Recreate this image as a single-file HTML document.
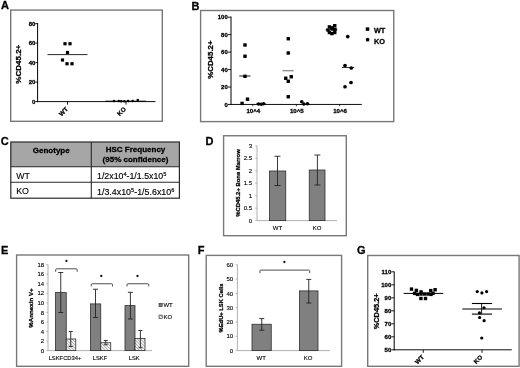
<!DOCTYPE html>
<html><head><meta charset="utf-8"><title>Figure</title>
<style>
html,body{margin:0;padding:0;background:#fff;}
body{width:520px;height:368px;overflow:hidden;font-family:"Liberation Sans",sans-serif;}
svg{display:block;filter:blur(0.35px);}
svg text{font-family:"Liberation Sans",sans-serif;}
</style></head><body>
<svg width="520" height="368" viewBox="0 0 520 368">
<rect width="520" height="368" fill="#fff"/>
<text x="1.0" y="9.2" font-size="11" font-weight="bold" stroke="#000" stroke-width="0.28" text-anchor="start" fill="#000" >A</text>
<text x="191.6" y="9.8" font-size="11" font-weight="bold" stroke="#000" stroke-width="0.28" text-anchor="start" fill="#000" >B</text>
<text x="0.8" y="144.9" font-size="11" font-weight="bold" stroke="#000" stroke-width="0.28" text-anchor="start" fill="#000" >C</text>
<text x="205.6" y="145.0" font-size="11" font-weight="bold" stroke="#000" stroke-width="0.28" text-anchor="start" fill="#000" >D</text>
<text x="1.0" y="254.3" font-size="11" font-weight="bold" stroke="#000" stroke-width="0.28" text-anchor="start" fill="#000" >E</text>
<text x="197.7" y="254.3" font-size="11" font-weight="bold" stroke="#000" stroke-width="0.28" text-anchor="start" fill="#000" >F</text>
<text x="357.0" y="254.3" font-size="11" font-weight="bold" stroke="#000" stroke-width="0.28" text-anchor="start" fill="#000" >G</text>
<rect x="10.7" y="10.1" width="151.60000000000002" height="111.2" fill="none" stroke="#787878" stroke-width="1.4"/>
<line x1="37.6" y1="23.0" x2="37.6" y2="102.1" stroke="#000" stroke-width="1"/>
<line x1="37.1" y1="101.6" x2="155.5" y2="101.6" stroke="#000" stroke-width="0.95"/>
<line x1="35.300000000000004" y1="101.6" x2="37.6" y2="101.6" stroke="#000" stroke-width="0.9"/>
<text x="35.4" y="103.69999999999999" font-size="6" font-weight="bold" stroke="#000" stroke-width="0.28" text-anchor="end" fill="#000" >0</text>
<line x1="35.300000000000004" y1="82.1" x2="37.6" y2="82.1" stroke="#000" stroke-width="0.9"/>
<text x="35.4" y="84.19999999999999" font-size="6" font-weight="bold" stroke="#000" stroke-width="0.28" text-anchor="end" fill="#000" >20</text>
<line x1="35.300000000000004" y1="62.599999999999994" x2="37.6" y2="62.599999999999994" stroke="#000" stroke-width="0.9"/>
<text x="35.4" y="64.69999999999999" font-size="6" font-weight="bold" stroke="#000" stroke-width="0.28" text-anchor="end" fill="#000" >40</text>
<line x1="35.300000000000004" y1="43.099999999999994" x2="37.6" y2="43.099999999999994" stroke="#000" stroke-width="0.9"/>
<text x="35.4" y="45.199999999999996" font-size="6" font-weight="bold" stroke="#000" stroke-width="0.28" text-anchor="end" fill="#000" >60</text>
<line x1="35.300000000000004" y1="23.599999999999994" x2="37.6" y2="23.599999999999994" stroke="#000" stroke-width="0.9"/>
<text x="35.4" y="25.699999999999996" font-size="6" font-weight="bold" stroke="#000" stroke-width="0.28" text-anchor="end" fill="#000" >80</text>
<text x="20.9" y="64.2" font-size="8" font-weight="bold" stroke="#000" stroke-width="0.28" text-anchor="middle" fill="#000" transform="rotate(-90 20.9 64.2)" >%CD45.2+</text>
<rect x="63.40" y="42.15" width="3.2" height="3.2" fill="#000"/>
<rect x="68.40" y="42.15" width="3.2" height="3.2" fill="#000"/>
<rect x="65.90" y="50.90" width="3.2" height="3.2" fill="#000"/>
<rect x="60.90" y="58.40" width="3.2" height="3.2" fill="#000"/>
<rect x="65.40" y="62.15" width="3.2" height="3.2" fill="#000"/>
<rect x="70.40" y="62.15" width="3.2" height="3.2" fill="#000"/>
<line x1="47.5" y1="54.6" x2="87.5" y2="54.6" stroke="#111" stroke-width="0.9"/>
<line x1="67.5" y1="101.6" x2="67.5" y2="104.6" stroke="#000" stroke-width="0.9"/>
<line x1="126" y1="101.6" x2="126" y2="104.6" stroke="#000" stroke-width="0.9"/>
<circle cx="114" cy="101" r="1.25" fill="#000"/>
<circle cx="118.75" cy="101" r="1.25" fill="#000"/>
<circle cx="121.25" cy="101.3" r="1.25" fill="#000"/>
<circle cx="124.4" cy="101.3" r="1.25" fill="#000"/>
<circle cx="128.1" cy="101.1" r="1.25" fill="#000"/>
<circle cx="132.75" cy="100.9" r="1.25" fill="#000"/>
<circle cx="137.75" cy="99.9" r="1.25" fill="#000"/>
<line x1="105.5" y1="101.2" x2="146" y2="101.2" stroke="#000" stroke-width="1.0"/>
<text x="65.0" y="113.0" font-size="6.2" font-weight="bold" stroke="#000" stroke-width="0.28" text-anchor="middle" fill="#000" transform="rotate(-45 65.0 113.0)" >WT</text>
<text x="123.0" y="113.0" font-size="6.2" font-weight="bold" stroke="#000" stroke-width="0.28" text-anchor="middle" fill="#000" transform="rotate(-45 123.0 113.0)" >KO</text>
<rect x="200.6" y="10.5" width="193.15" height="111.1" fill="none" stroke="#787878" stroke-width="1.4"/>
<line x1="231.0" y1="16.5" x2="231.0" y2="104.95" stroke="#000" stroke-width="1"/>
<line x1="230.5" y1="104.45" x2="361.75" y2="104.45" stroke="#000" stroke-width="0.95"/>
<line x1="228.0" y1="104.45" x2="231.0" y2="104.45" stroke="#000" stroke-width="0.9"/>
<text x="227.8" y="106.55" font-size="6" font-weight="bold" stroke="#000" stroke-width="0.28" text-anchor="end" fill="#000" >0</text>
<line x1="228.0" y1="87.0" x2="231.0" y2="87.0" stroke="#000" stroke-width="0.9"/>
<text x="227.8" y="89.1" font-size="6" font-weight="bold" stroke="#000" stroke-width="0.28" text-anchor="end" fill="#000" >20</text>
<line x1="228.0" y1="69.55000000000001" x2="231.0" y2="69.55000000000001" stroke="#000" stroke-width="0.9"/>
<text x="227.8" y="71.65" font-size="6" font-weight="bold" stroke="#000" stroke-width="0.28" text-anchor="end" fill="#000" >40</text>
<line x1="228.0" y1="52.10000000000001" x2="231.0" y2="52.10000000000001" stroke="#000" stroke-width="0.9"/>
<text x="227.8" y="54.20000000000001" font-size="6" font-weight="bold" stroke="#000" stroke-width="0.28" text-anchor="end" fill="#000" >60</text>
<line x1="228.0" y1="34.650000000000006" x2="231.0" y2="34.650000000000006" stroke="#000" stroke-width="0.9"/>
<text x="227.8" y="36.75000000000001" font-size="6" font-weight="bold" stroke="#000" stroke-width="0.28" text-anchor="end" fill="#000" >80</text>
<line x1="228.0" y1="17.200000000000003" x2="231.0" y2="17.200000000000003" stroke="#000" stroke-width="0.9"/>
<text x="227.8" y="19.300000000000004" font-size="6" font-weight="bold" stroke="#000" stroke-width="0.28" text-anchor="end" fill="#000" >100</text>
<text x="212.6" y="59.6" font-size="7.9" font-weight="bold" stroke="#000" stroke-width="0.28" text-anchor="middle" fill="#000" transform="rotate(-90 212.6 59.6)" >%CD45.2+</text>
<rect x="243.30" y="43.30" width="3.4" height="3.4" fill="#000"/>
<rect x="243.30" y="54.55" width="3.4" height="3.4" fill="#000"/>
<rect x="243.30" y="74.60" width="3.4" height="3.4" fill="#000"/>
<rect x="240.40" y="101.70" width="3.4" height="3.4" fill="#000"/>
<rect x="245.80" y="97.50" width="3.4" height="3.4" fill="#000"/>
<rect x="286.55" y="37.05" width="3.4" height="3.4" fill="#000"/>
<rect x="286.55" y="51.30" width="3.4" height="3.4" fill="#000"/>
<rect x="284.05" y="76.55" width="3.4" height="3.4" fill="#000"/>
<rect x="289.55" y="75.05" width="3.4" height="3.4" fill="#000"/>
<rect x="286.55" y="79.55" width="3.4" height="3.4" fill="#000"/>
<rect x="286.55" y="95.05" width="3.4" height="3.4" fill="#000"/>
<line x1="239.25" y1="76" x2="250.5" y2="76" stroke="#000" stroke-width="0.9"/>
<line x1="282.5" y1="70.75" x2="293.75" y2="70.75" stroke="#555" stroke-width="0.9"/>
<circle cx="258.5" cy="104" r="1.8" fill="#000"/>
<circle cx="261.25" cy="104.2" r="1.8" fill="#000"/>
<circle cx="263.6" cy="103.7" r="1.8" fill="#000"/>
<circle cx="301.75" cy="101.75" r="1.8" fill="#000"/>
<circle cx="303.9" cy="104" r="1.8" fill="#000"/>
<circle cx="307.5" cy="103.8" r="1.8" fill="#000"/>
<line x1="256" y1="104.0" x2="266" y2="104.0" stroke="#000" stroke-width="0.8"/>
<rect x="327.70" y="25.20" width="3.4" height="3.4" fill="#000"/>
<rect x="333.05" y="24.00" width="3.4" height="3.4" fill="#000"/>
<rect x="333.30" y="27.70" width="3.4" height="3.4" fill="#000"/>
<rect x="326.30" y="28.30" width="3.4" height="3.4" fill="#000"/>
<rect x="327.70" y="30.80" width="3.4" height="3.4" fill="#000"/>
<rect x="330.20" y="31.90" width="3.4" height="3.4" fill="#000"/>
<rect x="333.05" y="30.80" width="3.4" height="3.4" fill="#000"/>
<rect x="330.20" y="26.10" width="3.4" height="3.4" fill="#000"/>
<rect x="330.80" y="27.30" width="3.4" height="3.4" fill="#000"/>
<line x1="325.6" y1="29.75" x2="337.25" y2="29.75" stroke="#000" stroke-width="0.9"/>
<circle cx="347.75" cy="36.6" r="1.85" fill="#000"/>
<circle cx="345" cy="65.5" r="1.85" fill="#000"/>
<circle cx="351.25" cy="68" r="1.85" fill="#000"/>
<circle cx="351" cy="82.5" r="1.85" fill="#000"/>
<circle cx="345" cy="86.75" r="1.85" fill="#000"/>
<line x1="342" y1="67.5" x2="354.25" y2="67.5" stroke="#000" stroke-width="0.8"/>
<line x1="252.85" y1="104.45" x2="252.85" y2="106.25" stroke="#000" stroke-width="0.8"/>
<text x="253.25" y="113.3" font-size="6.1" font-weight="bold" stroke="#000" stroke-width="0.28" text-anchor="middle" fill="#000" >10^4</text>
<line x1="296.35" y1="104.45" x2="296.35" y2="106.25" stroke="#000" stroke-width="0.8"/>
<text x="296.75" y="113.3" font-size="6.1" font-weight="bold" stroke="#000" stroke-width="0.28" text-anchor="middle" fill="#000" >10^5</text>
<line x1="339.6" y1="104.45" x2="339.6" y2="106.25" stroke="#000" stroke-width="0.8"/>
<text x="340" y="113.3" font-size="6.1" font-weight="bold" stroke="#000" stroke-width="0.28" text-anchor="middle" fill="#000" >10^6</text>
<rect x="365.75" y="27.35" width="3.5" height="3.5" fill="#000"/>
<text x="373.9" y="32.7" font-size="7.3" font-weight="bold" stroke="#000" stroke-width="0.28" text-anchor="start" fill="#000" >WT</text>
<circle cx="367.6" cy="39.7" r="1.85" fill="#000"/>
<text x="373.9" y="43.8" font-size="7.3" font-weight="bold" stroke="#000" stroke-width="0.28" text-anchor="start" fill="#000" >KO</text>
<rect x="10.8" y="142.0" width="168.6" height="24.75" fill="#a6a6a6"/>
<rect x="10.8" y="142.0" width="168.6" height="56.19999999999999" fill="none" stroke="#2a2a2a" stroke-width="1.2"/>
<line x1="10.8" y1="166.7" x2="179.4" y2="166.7" stroke="#2a2a2a" stroke-width="1.1"/>
<line x1="10.8" y1="182.3" x2="179.4" y2="182.3" stroke="#2a2a2a" stroke-width="1.1"/>
<line x1="91.3" y1="142.0" x2="91.3" y2="198.2" stroke="#2a2a2a" stroke-width="1.1"/>
<text x="51.25" y="152.6" font-size="8" font-weight="bold" stroke="#000" stroke-width="0.28" text-anchor="middle" fill="#000" >Genotype</text>
<text x="135.5" y="152.2" font-size="8" font-weight="bold" stroke="#000" stroke-width="0.28" text-anchor="middle" fill="#000" >HSC Frequency</text>
<text x="135.5" y="162.4" font-size="8" font-weight="bold" stroke="#000" stroke-width="0.28" text-anchor="middle" fill="#000" >(95% confidence)</text>
<text x="16.2" y="178.6" font-size="8.8" stroke="#000" stroke-width="0.12" text-anchor="start" fill="#000" >WT</text>
<text x="16.2" y="194.3" font-size="8.8" stroke="#000" stroke-width="0.12" text-anchor="start" fill="#000" >KO</text>
<text x="97" y="178.8" font-size="8.8" fill="#000" stroke="#000" stroke-width="0.15">1/2x10<tspan font-size="5.6" dy="-3">4</tspan><tspan dy="3">-1/1.5x10</tspan><tspan font-size="5.6" dy="-3">5</tspan></text>
<text x="97" y="194.5" font-size="8.9" fill="#000" stroke="#000" stroke-width="0.15">1/3.4x10<tspan font-size="5.6" dy="-3">5</tspan><tspan dy="3">-1/5.6x10</tspan><tspan font-size="5.6" dy="-3">6</tspan></text>
<rect x="223.6" y="135.75" width="122.70000000000002" height="99.94999999999999" fill="none" stroke="#787878" stroke-width="1.4"/>
<line x1="257" y1="145.5" x2="257" y2="220.6" stroke="#a8a8a8" stroke-width="0.9"/>
<line x1="257" y1="220.6" x2="337" y2="220.6" stroke="#a8a8a8" stroke-width="0.9"/>
<line x1="255.2" y1="220.6" x2="257" y2="220.6" stroke="#a8a8a8" stroke-width="0.8"/>
<text x="252.0" y="222.7" font-size="6" stroke="#000" stroke-width="0.12" text-anchor="end" fill="#000" >0</text>
<line x1="255.2" y1="208.15" x2="257" y2="208.15" stroke="#a8a8a8" stroke-width="0.8"/>
<text x="252.0" y="210.25" font-size="6" stroke="#000" stroke-width="0.12" text-anchor="end" fill="#000" >0.5</text>
<line x1="255.2" y1="195.7" x2="257" y2="195.7" stroke="#a8a8a8" stroke-width="0.8"/>
<text x="252.0" y="197.79999999999998" font-size="6" stroke="#000" stroke-width="0.12" text-anchor="end" fill="#000" >1</text>
<line x1="255.2" y1="183.25" x2="257" y2="183.25" stroke="#a8a8a8" stroke-width="0.8"/>
<text x="252.0" y="185.35" font-size="6" stroke="#000" stroke-width="0.12" text-anchor="end" fill="#000" >1.5</text>
<line x1="255.2" y1="170.8" x2="257" y2="170.8" stroke="#a8a8a8" stroke-width="0.8"/>
<text x="252.0" y="172.9" font-size="6" stroke="#000" stroke-width="0.12" text-anchor="end" fill="#000" >2</text>
<line x1="255.2" y1="158.35" x2="257" y2="158.35" stroke="#a8a8a8" stroke-width="0.8"/>
<text x="252.0" y="160.45" font-size="6" stroke="#000" stroke-width="0.12" text-anchor="end" fill="#000" >2.5</text>
<line x1="255.2" y1="145.9" x2="257" y2="145.9" stroke="#a8a8a8" stroke-width="0.8"/>
<text x="252.0" y="148.0" font-size="6" stroke="#000" stroke-width="0.12" text-anchor="end" fill="#000" >3</text>
<text x="240.1" y="183" font-size="5.9" font-weight="bold" stroke="#000" stroke-width="0.28" text-anchor="middle" fill="#000" transform="rotate(-90 240.1 183)" >%CD45.2+ Bone Marrow</text>
<rect x="269.5" y="171" width="16.25" height="49.599999999999994" fill="#808080" stroke="#2e2e2e" stroke-width="0.8"/>
<line x1="277.5" y1="156.25" x2="277.5" y2="185.5" stroke="#222" stroke-width="0.9"/>
<line x1="274.5" y1="156.25" x2="280.5" y2="156.25" stroke="#222" stroke-width="0.9"/>
<line x1="274.5" y1="185.5" x2="280.5" y2="185.5" stroke="#222" stroke-width="0.9"/>
<rect x="309.25" y="170" width="15.75" height="50.599999999999994" fill="#808080" stroke="#2e2e2e" stroke-width="0.8"/>
<line x1="317.4" y1="155" x2="317.4" y2="185" stroke="#222" stroke-width="0.9"/>
<line x1="314.4" y1="155" x2="320.4" y2="155" stroke="#222" stroke-width="0.9"/>
<line x1="314.4" y1="185" x2="320.4" y2="185" stroke="#222" stroke-width="0.9"/>
<text x="277.5" y="230.2" font-size="6" stroke="#000" stroke-width="0.12" text-anchor="middle" fill="#000" >WT</text>
<text x="317" y="230.2" font-size="6" stroke="#000" stroke-width="0.12" text-anchor="middle" fill="#000" >KO</text>
<rect x="16.6" y="255.0" width="172.1" height="111.30000000000001" fill="none" stroke="#787878" stroke-width="1.4"/>
<line x1="48" y1="264.5" x2="48" y2="350.6" stroke="#a8a8a8" stroke-width="0.9"/>
<line x1="48" y1="350.6" x2="152" y2="350.6" stroke="#a8a8a8" stroke-width="0.9"/>
<line x1="46.2" y1="350.6" x2="48" y2="350.6" stroke="#a8a8a8" stroke-width="0.8"/>
<text x="44.2" y="352.70000000000005" font-size="6" stroke="#000" stroke-width="0.12" text-anchor="end" fill="#000" >0</text>
<line x1="46.2" y1="341.05" x2="48" y2="341.05" stroke="#a8a8a8" stroke-width="0.8"/>
<text x="44.2" y="343.15000000000003" font-size="6" stroke="#000" stroke-width="0.12" text-anchor="end" fill="#000" >2</text>
<line x1="46.2" y1="331.5" x2="48" y2="331.5" stroke="#a8a8a8" stroke-width="0.8"/>
<text x="44.2" y="333.6" font-size="6" stroke="#000" stroke-width="0.12" text-anchor="end" fill="#000" >4</text>
<line x1="46.2" y1="321.95000000000005" x2="48" y2="321.95000000000005" stroke="#a8a8a8" stroke-width="0.8"/>
<text x="44.2" y="324.05000000000007" font-size="6" stroke="#000" stroke-width="0.12" text-anchor="end" fill="#000" >6</text>
<line x1="46.2" y1="312.40000000000003" x2="48" y2="312.40000000000003" stroke="#a8a8a8" stroke-width="0.8"/>
<text x="44.2" y="314.50000000000006" font-size="6" stroke="#000" stroke-width="0.12" text-anchor="end" fill="#000" >8</text>
<line x1="46.2" y1="302.85" x2="48" y2="302.85" stroke="#a8a8a8" stroke-width="0.8"/>
<text x="44.2" y="304.95000000000005" font-size="6" stroke="#000" stroke-width="0.12" text-anchor="end" fill="#000" >10</text>
<line x1="46.2" y1="293.3" x2="48" y2="293.3" stroke="#a8a8a8" stroke-width="0.8"/>
<text x="44.2" y="295.40000000000003" font-size="6" stroke="#000" stroke-width="0.12" text-anchor="end" fill="#000" >12</text>
<line x1="46.2" y1="283.75" x2="48" y2="283.75" stroke="#a8a8a8" stroke-width="0.8"/>
<text x="44.2" y="285.85" font-size="6" stroke="#000" stroke-width="0.12" text-anchor="end" fill="#000" >14</text>
<line x1="46.2" y1="274.20000000000005" x2="48" y2="274.20000000000005" stroke="#a8a8a8" stroke-width="0.8"/>
<text x="44.2" y="276.30000000000007" font-size="6" stroke="#000" stroke-width="0.12" text-anchor="end" fill="#000" >16</text>
<line x1="46.2" y1="264.65000000000003" x2="48" y2="264.65000000000003" stroke="#a8a8a8" stroke-width="0.8"/>
<text x="44.2" y="266.75000000000006" font-size="6" stroke="#000" stroke-width="0.12" text-anchor="end" fill="#000" >18</text>
<text x="33.4" y="308" font-size="6.2" font-weight="bold" stroke="#000" stroke-width="0.28" text-anchor="middle" fill="#000" transform="rotate(-90 33.4 308)" >%Annexin V+</text>
<defs><pattern id="h" width="2.2" height="2.2" patternUnits="userSpaceOnUse" patternTransform="rotate(-45)"><rect width="2.2" height="2.2" fill="#fff"/><line x1="0.5" y1="0" x2="0.5" y2="2.2" stroke="#777" stroke-width="0.6"/></pattern></defs>
<rect x="55.5" y="292.6" width="10.75" height="58.0" fill="#808080" stroke="#2e2e2e" stroke-width="0.8"/>
<line x1="60.75" y1="272.5" x2="60.75" y2="312.5" stroke="#222" stroke-width="0.9"/>
<line x1="58.25" y1="272.5" x2="63.25" y2="272.5" stroke="#222" stroke-width="0.9"/>
<line x1="58.25" y1="312.5" x2="63.25" y2="312.5" stroke="#222" stroke-width="0.9"/>
<rect x="66.25" y="339" width="9.5" height="11.600000000000023" fill="url(#h)" stroke="#2e2e2e" stroke-width="0.8"/>
<line x1="70.75" y1="331.5" x2="70.75" y2="346.5" stroke="#222" stroke-width="0.9"/>
<line x1="68.75" y1="331.5" x2="72.75" y2="331.5" stroke="#222" stroke-width="0.9"/>
<line x1="68.75" y1="346.5" x2="72.75" y2="346.5" stroke="#222" stroke-width="0.9"/>
<rect x="90.5" y="303.9" width="10.25" height="46.700000000000045" fill="#808080" stroke="#2e2e2e" stroke-width="0.8"/>
<line x1="95.5" y1="289.25" x2="95.5" y2="317.5" stroke="#222" stroke-width="0.9"/>
<line x1="93.0" y1="289.25" x2="98.0" y2="289.25" stroke="#222" stroke-width="0.9"/>
<line x1="93.0" y1="317.5" x2="98.0" y2="317.5" stroke="#222" stroke-width="0.9"/>
<rect x="100.75" y="342.75" width="10.0" height="7.850000000000023" fill="url(#h)" stroke="#2e2e2e" stroke-width="0.8"/>
<line x1="105.75" y1="340.5" x2="105.75" y2="344.75" stroke="#222" stroke-width="0.9"/>
<line x1="103.75" y1="340.5" x2="107.75" y2="340.5" stroke="#222" stroke-width="0.9"/>
<line x1="103.75" y1="344.75" x2="107.75" y2="344.75" stroke="#222" stroke-width="0.9"/>
<rect x="125" y="305.6" width="10" height="45.0" fill="#808080" stroke="#2e2e2e" stroke-width="0.8"/>
<line x1="130.4" y1="292.3" x2="130.4" y2="319" stroke="#222" stroke-width="0.9"/>
<line x1="127.9" y1="292.3" x2="132.9" y2="292.3" stroke="#222" stroke-width="0.9"/>
<line x1="127.9" y1="319" x2="132.9" y2="319" stroke="#222" stroke-width="0.9"/>
<rect x="135" y="338.5" width="10" height="12.100000000000023" fill="url(#h)" stroke="#2e2e2e" stroke-width="0.8"/>
<line x1="140.4" y1="330.5" x2="140.4" y2="347.75" stroke="#222" stroke-width="0.9"/>
<line x1="138.4" y1="330.5" x2="142.4" y2="330.5" stroke="#222" stroke-width="0.9"/>
<line x1="138.4" y1="347.75" x2="142.4" y2="347.75" stroke="#222" stroke-width="0.9"/>
<path d="M55.7 271.8 V269.8 Q55.7 268.8 56.7 268.8 H76.2 Q77.2 268.8 77.2 269.8 V271.8" fill="none" stroke="#222" stroke-width="0.8"/>
<circle cx="66.4" cy="260.9" r="1.15" fill="#111"/>
<path d="M91.25 286.45 V284.75 Q91.25 283.75 92.25 283.75 H111.5 Q112.5 283.75 112.5 284.75 V286.45" fill="none" stroke="#222" stroke-width="0.8"/>
<circle cx="101.25" cy="276" r="1.15" fill="#111"/>
<path d="M127 286.45 V284.75 Q127 283.75 128 283.75 H147.75 Q148.75 283.75 148.75 284.75 V286.45" fill="none" stroke="#222" stroke-width="0.8"/>
<circle cx="137.5" cy="276" r="1.15" fill="#111"/>
<text x="65" y="359.9" font-size="5.8" stroke="#000" stroke-width="0.12" text-anchor="middle" fill="#000" >LSKFCD34+</text>
<text x="100" y="359.9" font-size="5.8" stroke="#000" stroke-width="0.12" text-anchor="middle" fill="#000" >LSKF</text>
<text x="134.25" y="359.9" font-size="5.8" stroke="#000" stroke-width="0.12" text-anchor="middle" fill="#000" >LSK</text>
<rect x="159.0" y="303.4" width="3.2" height="3.2" fill="#808080" stroke="#222" stroke-width="0.6"/>
<text x="163.4" y="307.2" font-size="6" stroke="#000" stroke-width="0.12" text-anchor="start" fill="#000" >WT</text>
<rect x="159.0" y="315.1" width="3.2" height="3.2" fill="url(#h)" stroke="#222" stroke-width="0.6"/>
<text x="163.4" y="318.9" font-size="6" stroke="#000" stroke-width="0.12" text-anchor="start" fill="#000" >KO</text>
<rect x="206.2" y="255.4" width="135.40000000000003" height="110.9" fill="none" stroke="#787878" stroke-width="1.4"/>
<line x1="237.4" y1="264.5" x2="237.4" y2="350.6" stroke="#a8a8a8" stroke-width="0.9"/>
<line x1="237.4" y1="350.6" x2="330" y2="350.6" stroke="#a8a8a8" stroke-width="0.9"/>
<line x1="235.6" y1="350.6" x2="237.4" y2="350.6" stroke="#a8a8a8" stroke-width="0.8"/>
<text x="233.20000000000002" y="352.70000000000005" font-size="6" stroke="#000" stroke-width="0.12" text-anchor="end" fill="#000" >0</text>
<line x1="235.6" y1="336.3" x2="237.4" y2="336.3" stroke="#a8a8a8" stroke-width="0.8"/>
<text x="233.20000000000002" y="338.40000000000003" font-size="6" stroke="#000" stroke-width="0.12" text-anchor="end" fill="#000" >10</text>
<line x1="235.6" y1="322.0" x2="237.4" y2="322.0" stroke="#a8a8a8" stroke-width="0.8"/>
<text x="233.20000000000002" y="324.1" font-size="6" stroke="#000" stroke-width="0.12" text-anchor="end" fill="#000" >20</text>
<line x1="235.6" y1="307.70000000000005" x2="237.4" y2="307.70000000000005" stroke="#a8a8a8" stroke-width="0.8"/>
<text x="233.20000000000002" y="309.80000000000007" font-size="6" stroke="#000" stroke-width="0.12" text-anchor="end" fill="#000" >30</text>
<line x1="235.6" y1="293.40000000000003" x2="237.4" y2="293.40000000000003" stroke="#a8a8a8" stroke-width="0.8"/>
<text x="233.20000000000002" y="295.50000000000006" font-size="6" stroke="#000" stroke-width="0.12" text-anchor="end" fill="#000" >40</text>
<line x1="235.6" y1="279.1" x2="237.4" y2="279.1" stroke="#a8a8a8" stroke-width="0.8"/>
<text x="233.20000000000002" y="281.20000000000005" font-size="6" stroke="#000" stroke-width="0.12" text-anchor="end" fill="#000" >50</text>
<line x1="235.6" y1="264.8" x2="237.4" y2="264.8" stroke="#a8a8a8" stroke-width="0.8"/>
<text x="233.20000000000002" y="266.90000000000003" font-size="6" stroke="#000" stroke-width="0.12" text-anchor="end" fill="#000" >60</text>
<text x="222.9" y="308" font-size="5.8" font-weight="bold" stroke="#000" stroke-width="0.28" text-anchor="middle" fill="#000" transform="rotate(-90 222.9 308)" >%EdU+ LSK Cells</text>
<rect x="252" y="324.25" width="19.25" height="26.350000000000023" fill="#808080" stroke="#2e2e2e" stroke-width="0.8"/>
<line x1="261.75" y1="318.6" x2="261.75" y2="330.25" stroke="#222" stroke-width="0.9"/>
<line x1="259.25" y1="318.6" x2="264.25" y2="318.6" stroke="#222" stroke-width="0.9"/>
<line x1="259.25" y1="330.25" x2="264.25" y2="330.25" stroke="#222" stroke-width="0.9"/>
<rect x="299.5" y="290.9" width="18.5" height="59.700000000000045" fill="#808080" stroke="#2e2e2e" stroke-width="0.8"/>
<line x1="308.75" y1="279.4" x2="308.75" y2="303" stroke="#222" stroke-width="0.9"/>
<line x1="306.25" y1="279.4" x2="311.25" y2="279.4" stroke="#222" stroke-width="0.9"/>
<line x1="306.25" y1="303" x2="311.25" y2="303" stroke="#222" stroke-width="0.9"/>
<path d="M259.9 273.1 V271.1 Q259.9 270.1 260.9 270.1 H308.7 Q309.7 270.1 309.7 271.1 V273.1" fill="none" stroke="#222" stroke-width="0.8"/>
<circle cx="284.4" cy="262" r="1.15" fill="#111"/>
<text x="261.25" y="359.9" font-size="6" stroke="#000" stroke-width="0.12" text-anchor="middle" fill="#000" >WT</text>
<text x="308" y="359.9" font-size="6" stroke="#000" stroke-width="0.12" text-anchor="middle" fill="#000" >KO</text>
<rect x="367.7" y="255.5" width="151.40000000000003" height="110.80000000000001" fill="none" stroke="#787878" stroke-width="1.4"/>
<line x1="394.2" y1="271.5" x2="394.2" y2="350.3" stroke="#000" stroke-width="1"/>
<line x1="393.7" y1="349.8" x2="511.75" y2="349.8" stroke="#000" stroke-width="0.95"/>
<line x1="391.4" y1="349.8" x2="394.2" y2="349.8" stroke="#000" stroke-width="0.9"/>
<text x="391.3" y="351.90000000000003" font-size="6" font-weight="bold" stroke="#000" stroke-width="0.28" text-anchor="end" fill="#000" >50</text>
<line x1="391.4" y1="336.8" x2="394.2" y2="336.8" stroke="#000" stroke-width="0.9"/>
<text x="391.3" y="338.90000000000003" font-size="6" font-weight="bold" stroke="#000" stroke-width="0.28" text-anchor="end" fill="#000" >60</text>
<line x1="391.4" y1="323.8" x2="394.2" y2="323.8" stroke="#000" stroke-width="0.9"/>
<text x="391.3" y="325.90000000000003" font-size="6" font-weight="bold" stroke="#000" stroke-width="0.28" text-anchor="end" fill="#000" >70</text>
<line x1="391.4" y1="310.8" x2="394.2" y2="310.8" stroke="#000" stroke-width="0.9"/>
<text x="391.3" y="312.90000000000003" font-size="6" font-weight="bold" stroke="#000" stroke-width="0.28" text-anchor="end" fill="#000" >80</text>
<line x1="391.4" y1="297.8" x2="394.2" y2="297.8" stroke="#000" stroke-width="0.9"/>
<text x="391.3" y="299.90000000000003" font-size="6" font-weight="bold" stroke="#000" stroke-width="0.28" text-anchor="end" fill="#000" >90</text>
<line x1="391.4" y1="284.8" x2="394.2" y2="284.8" stroke="#000" stroke-width="0.9"/>
<text x="391.3" y="286.90000000000003" font-size="6" font-weight="bold" stroke="#000" stroke-width="0.28" text-anchor="end" fill="#000" >100</text>
<line x1="391.4" y1="271.8" x2="394.2" y2="271.8" stroke="#000" stroke-width="0.9"/>
<text x="391.3" y="273.90000000000003" font-size="6" font-weight="bold" stroke="#000" stroke-width="0.28" text-anchor="end" fill="#000" >110</text>
<text x="378.8" y="311.3" font-size="7.4" font-weight="bold" stroke="#000" stroke-width="0.28" text-anchor="middle" fill="#000" transform="rotate(-90 378.8 311.3)" >%CD45.2+</text>
<rect x="409.80" y="287.40" width="3.4" height="3.4" fill="#000"/>
<rect x="433.40" y="288.05" width="3.4" height="3.4" fill="#000"/>
<rect x="414.70" y="288.70" width="3.4" height="3.4" fill="#000"/>
<rect x="429.05" y="288.90" width="3.4" height="3.4" fill="#000"/>
<rect x="419.40" y="290.20" width="3.4" height="3.4" fill="#000"/>
<rect x="412.90" y="291.70" width="3.4" height="3.4" fill="#000"/>
<rect x="415.80" y="292.70" width="3.4" height="3.4" fill="#000"/>
<rect x="419.30" y="292.30" width="3.4" height="3.4" fill="#000"/>
<rect x="422.80" y="292.30" width="3.4" height="3.4" fill="#000"/>
<rect x="426.30" y="292.30" width="3.4" height="3.4" fill="#000"/>
<rect x="429.30" y="292.70" width="3.4" height="3.4" fill="#000"/>
<rect x="431.30" y="291.60" width="3.4" height="3.4" fill="#000"/>
<rect x="419.20" y="296.80" width="3.4" height="3.4" fill="#000"/>
<rect x="423.80" y="296.80" width="3.4" height="3.4" fill="#000"/>
<line x1="403.6" y1="293.4" x2="443.2" y2="293.4" stroke="#000" stroke-width="1.0"/>
<circle cx="477.25" cy="291.6" r="1.6" fill="#000"/>
<circle cx="481.9" cy="292.9" r="1.6" fill="#000"/>
<circle cx="486.6" cy="291.6" r="1.6" fill="#000"/>
<circle cx="484" cy="307.75" r="1.6" fill="#000"/>
<circle cx="479.4" cy="312.9" r="1.6" fill="#000"/>
<circle cx="479.6" cy="317.5" r="1.6" fill="#000"/>
<circle cx="484.1" cy="320.7" r="1.6" fill="#000"/>
<circle cx="481.75" cy="338" r="1.6" fill="#000"/>
<line x1="462.25" y1="309" x2="501.9" y2="309" stroke="#000" stroke-width="1.1"/>
<line x1="471.9" y1="303.5" x2="492.1" y2="303.5" stroke="#000" stroke-width="1.1"/>
<line x1="471.9" y1="314.1" x2="492.1" y2="314.1" stroke="#000" stroke-width="1.1"/>
<line x1="481.6" y1="303.5" x2="481.6" y2="314.1" stroke="#000" stroke-width="0.9"/>
<line x1="423.25" y1="349.8" x2="423.25" y2="352.8" stroke="#000" stroke-width="0.9"/>
<line x1="482" y1="349.8" x2="482" y2="352.8" stroke="#000" stroke-width="0.9"/>
<text x="421.0" y="361.0" font-size="6.2" font-weight="bold" stroke="#000" stroke-width="0.28" text-anchor="middle" fill="#000" transform="rotate(-45 421.0 361.0)" >WT</text>
<text x="479.5" y="361.0" font-size="6.2" font-weight="bold" stroke="#000" stroke-width="0.28" text-anchor="middle" fill="#000" transform="rotate(-45 479.5 361.0)" >KO</text>
</svg>
</body></html>
